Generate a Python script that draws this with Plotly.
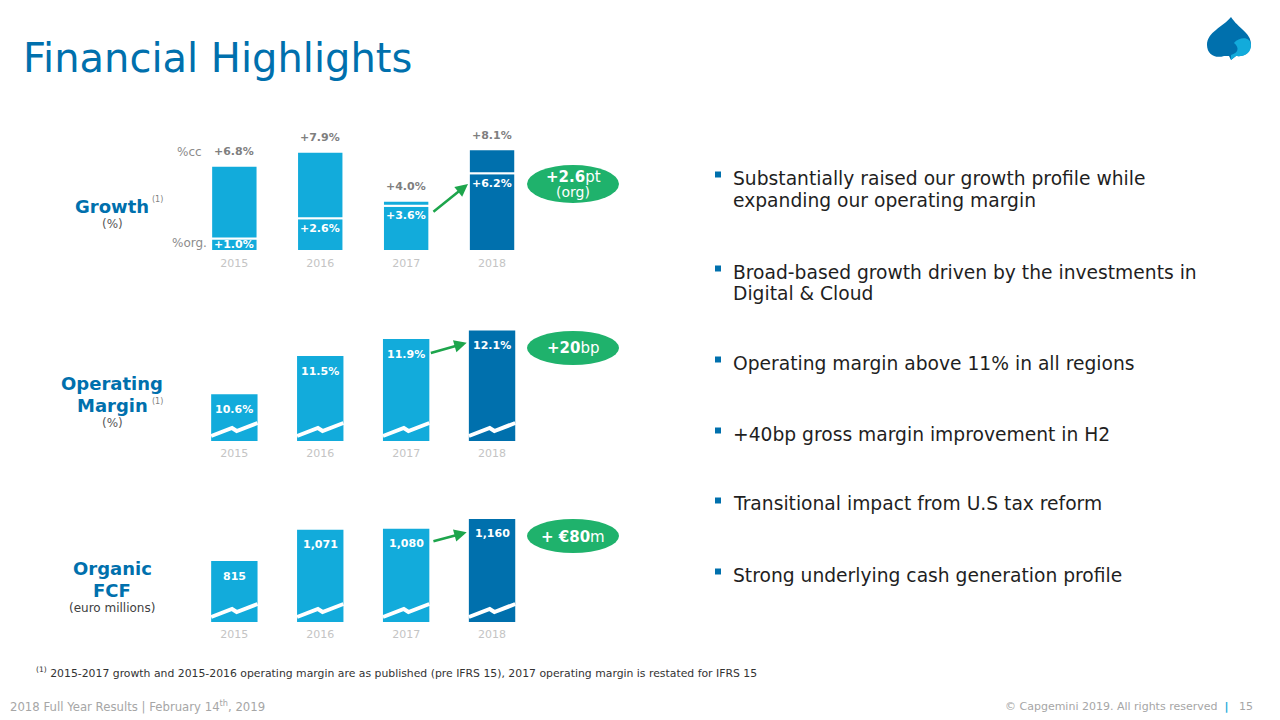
import plotly.graph_objects as go

W, H = 1280, 720

# ---------------- data ----------------
years = ["2015", "2016", "2017", "2018"]
growth_cc = [6.8, 7.9, 4.0, 8.1]        # % constant currency
growth_org = [1.0, 2.6, 3.6, 6.2]       # % organic
op_margin = [10.6, 11.5, 11.9, 12.1]    # %
organic_fcf = [815, 1071, 1080, 1160]   # euro millions

bullets = [
    ["Substantially raised our growth profile while", "expanding our operating margin"],
    ["Broad-based growth driven by the investments in", "Digital & Cloud"],
    ["Operating margin above 11% in all regions"],
    ["+40bp gross margin improvement in H2"],
    ["Transitional impact from U.S tax reform"],
    ["Strong underlying cash generation profile"],
]

# ---------------- style ----------------
LIGHT = "#12ABDB"
DARK = "#0070AD"
GREEN_FILL = "#1FB26C"
GREEN_ARROW = "#1DA54C"
GREY_YEAR = "#C4C4C4"
FONT = "DejaVu Sans"

bar_colors = [LIGHT, LIGHT, LIGHT, DARK]
xs = list(range(len(years)))
BAR_W = 0.54


def px(x):
    return x / W


def py(y):
    return 1 - y / H


# chart geometry (pixels)
X_LEFT, X_RIGHT = 191.4, 535.0
G_BASE, G_SCALE, G_MIN, G_MAX = 251, 12.55, 0.0, 9.0
M_BASE, M_SCALE, M_MIN, M_MAX = 441, 42.5, 9.5, 12.5
F_BASE, F_SCALE, F_MIN, F_MAX = 622, 0.122, 315.0, 1200.0


def ydom(base, scale, lo, hi):
    top = base - (hi - lo) * scale
    return [py(base), py(top)]


fig = go.Figure()

# ---- Growth: stacked organic + (cc - organic)
fig.add_trace(go.Bar(
    x=xs, y=growth_org, width=BAR_W, marker=dict(color=bar_colors, line=dict(color="white", width=2)),
    xaxis="x", yaxis="y", hoverinfo="skip"))
fig.add_trace(go.Bar(
    x=xs, y=[c - o for c, o in zip(growth_cc, growth_org)], base=growth_org, width=BAR_W,
    marker=dict(color=bar_colors, line=dict(color="white", width=2)),
    xaxis="x", yaxis="y", hoverinfo="skip"))

# ---- Operating margin
fig.add_trace(go.Bar(x=xs, y=op_margin, width=BAR_W, marker=dict(color=bar_colors, line=dict(width=0)),
                     xaxis="x2", yaxis="y2", hoverinfo="skip"))
# ---- Organic FCF
fig.add_trace(go.Bar(x=xs, y=organic_fcf, width=BAR_W, marker=dict(color=bar_colors, line=dict(width=0)),
                     xaxis="x3", yaxis="y3", hoverinfo="skip"))


# axis-break zigzags (white), derived from bar positions and axis scales
def zigzag(lo, scale, xa, ya):
    fr = [0.0, 0.45, 0.55, 1.0]
    off = [5, 13, 10, 18]
    zx, zy = [], []
    for i in xs:
        for f, o in zip(fr, off):
            zx.append(i - BAR_W / 2 + f * BAR_W)
            zy.append(lo + o / scale)
        zx.append(None)
        zy.append(None)
    fig.add_trace(go.Scatter(x=zx, y=zy, mode="lines", line=dict(color="white", width=4),
                             xaxis=xa, yaxis=ya, hoverinfo="skip"))


zigzag(M_MIN, M_SCALE, "x2", "y2")
zigzag(F_MIN, F_SCALE, "x3", "y3")

axis_common = dict(range=[-0.5, 3.5], domain=[px(X_LEFT), px(X_RIGHT)], tickvals=xs, ticktext=years,
                   showgrid=False, zeroline=False, showline=False, ticks="", ticklabelstandoff=4,
                   tickfont=dict(family=FONT, size=11, color=GREY_YEAR), fixedrange=True)
yaxis_common = dict(showgrid=False, zeroline=False, showline=False, showticklabels=False, fixedrange=True)

fig.update_layout(
    width=W, height=H, margin=dict(l=0, r=0, t=0, b=0),
    paper_bgcolor="white", plot_bgcolor="white", showlegend=False, barmode="overlay",
    xaxis=dict(**axis_common, anchor="y"),
    yaxis=dict(**yaxis_common, range=[G_MIN, G_MAX], domain=ydom(G_BASE, G_SCALE, G_MIN, G_MAX)),
    xaxis2=dict(**axis_common, anchor="y2"),
    yaxis2=dict(**yaxis_common, range=[M_MIN, M_MAX], domain=ydom(M_BASE, M_SCALE, M_MIN, M_MAX)),
    xaxis3=dict(**axis_common, anchor="y3"),
    yaxis3=dict(**yaxis_common, range=[F_MIN, F_MAX], domain=ydom(F_BASE, F_SCALE, F_MIN, F_MAX)),
)

ann = []


def text(x, y, t, size, color, bold=False, xanchor="center", yanchor="middle", family=FONT):
    ann.append(dict(x=px(x), y=py(y), xref="paper", yref="paper", text=f"<b>{t}</b>" if bold else t,
                    showarrow=False, xanchor=xanchor, yanchor=yanchor,
                    font=dict(family=family, size=size, color=color)))


# bar value labels
for i in xs:
    ann.append(dict(x=i, y=growth_cc[i], xref="x", yref="y", text=f"<b>+{growth_cc[i]:.1f}%</b>",
                    showarrow=False, yanchor="middle", yshift=14,
                    font=dict(family=FONT, size=11, color="#7F7F7F")))
    seg = growth_org[i] * G_SCALE
    ann.append(dict(x=i, y=growth_org[i], xref="x", yref="y", text=f"<b>+{growth_org[i]:.1f}%</b>",
                    showarrow=False, yanchor="middle", yshift=-min(10, seg / 2),
                    font=dict(family=FONT, size=11, color="white")))
    ann.append(dict(x=i, y=op_margin[i], xref="x2", yref="y2", text=f"<b>{op_margin[i]:.1f}%</b>",
                    showarrow=False, yanchor="middle", yshift=-15,
                    font=dict(family=FONT, size=11, color="white")))
    ann.append(dict(x=i, y=organic_fcf[i], xref="x3", yref="y3", text=f"<b>{organic_fcf[i]:,}</b>",
                    showarrow=False, yanchor="middle", yshift=-15,
                    font=dict(family=FONT, size=11, color="white")))

# green arrows from 2017 bar to 2018 bar
for xr, yr, tail, head in [
    ("x", "y", (2.30, 3.03), (2.72, 5.34)),
    ("x2", "y2", (2.27, 11.56), (2.705, 11.81)),
    ("x3", "y3", (2.30, 973), (2.705, 1050)),
]:
    ann.append(dict(x=head[0], y=head[1], ax=tail[0], ay=tail[1], xref=xr, yref=yr, axref=xr, ayref=yr,
                    text="", showarrow=True, arrowhead=2, arrowsize=1, arrowwidth=2.5,
                    arrowcolor=GREEN_ARROW, standoff=0))

# %cc / %org
text(204, 152, "%cc", 12, "#8C8C8C", xanchor="right")
text(209, 243, "%org.", 12, "#8C8C8C", xanchor="right")

# left-hand labels
text(112, 207, "Growth", 18, DARK, bold=True)
text(157, 199, "(1)", 8, "#7F7F7F")
text(112, 224, "(%)", 12, "#595959")
text(112, 383, "Operating", 18, DARK, bold=True)
text(112, 405, "Margin", 18, DARK, bold=True)
text(157, 401, "(1)", 8, "#7F7F7F")
text(112, 423, "(%)", 12, "#595959")
text(112, 568, "Organic", 18, DARK, bold=True)
text(112, 590, "FCF", 18, DARK, bold=True)
text(112, 608, "(euro millions)", 12, "#404040")

# title
text(21, 58, "Financial Highlights", 40, DARK, xanchor="left")

# green ellipses
shapes = []
for cy, hh in [(184, 19), (348, 17), (536, 17)]:
    shapes.append(dict(type="circle", xref="paper", yref="paper", x0=px(527), x1=px(619),
                       y0=py(cy + hh), y1=py(cy - hh), fillcolor=GREEN_FILL, line=dict(width=0), layer="below"))
text(573, 177, "<b>+2.6</b>pt", 15, "white")
text(573, 192, "(org)", 14, "white")
text(573, 348, "<b>+20</b>bp", 15, "white")
text(573, 537, "<b>+ €80</b>m", 15, "white")

# bullets
line_y = [[178, 200], [272, 293], [363], [434], [504], [575]]
for lines, ys in zip(bullets, line_y):
    shapes.append(dict(type="rect", xref="paper", yref="paper", x0=px(715), x1=px(721),
                       y0=py(ys[0] - 0.5), y1=py(ys[0] - 6.5), fillcolor=DARK, line=dict(width=0)))
    for t, yy in zip(lines, ys):
        text(731, yy, t, 18.7, "#1F1F1F", xanchor="left")

# footnote and footer
text(34, 672, "<sup>(1)</sup> 2015-2017 growth and 2015-2016 operating margin are as published (pre IFRS 15), "
              "2017 operating margin is restated for IFRS 15", 10.85, "#333333", xanchor="left")
text(8, 706, "2018 Full Year Results | February 14<sup>th</sup>, 2019", 11.7, "#A6A6A6", xanchor="left")
text(1255, 706, "© Capgemini 2019. All rights reserved  <span style='color:#12ABDB'><b>|</b></span>   15",
     11, "#A6A6A6", xanchor="right")


# logo (spade)
def path(cmds):
    out = []
    for c in cmds:
        if isinstance(c, str):
            out.append(c)
        else:
            out.append(f"{px(c[0]):.5f},{py(c[1]):.5f}")
    return " ".join(out)


dark_spade = path(["M", (1231, 17), "C", (1223, 27), (1207, 32), (1207, 45),
                   "C", (1207, 54), (1215, 59), (1224, 56),
                   "L", (1229, 56), "L", (1231, 60), "L", (1236, 56),
                   "C", (1245, 57), (1251, 52), (1251, 44),
                   "C", (1251, 33), (1238, 28), (1231, 17), "Z"])
light_lobe = path(["M", (1234, 43), "C", (1240, 36), (1251, 37), (1251, 45),
                   "C", (1251, 53), (1245, 57), (1236, 56),
                   "L", (1231, 60), "L", (1231, 55),
                   "C", (1238, 53), (1240, 48), (1234, 43), "Z"])
shapes.append(dict(type="path", xref="paper", yref="paper", path=dark_spade, fillcolor=DARK, line=dict(width=0)))
shapes.append(dict(type="path", xref="paper", yref="paper", path=light_lobe, fillcolor=LIGHT, line=dict(width=0)))

fig.update_layout(annotations=ann, shapes=shapes)
fig.write_html("out.html")
